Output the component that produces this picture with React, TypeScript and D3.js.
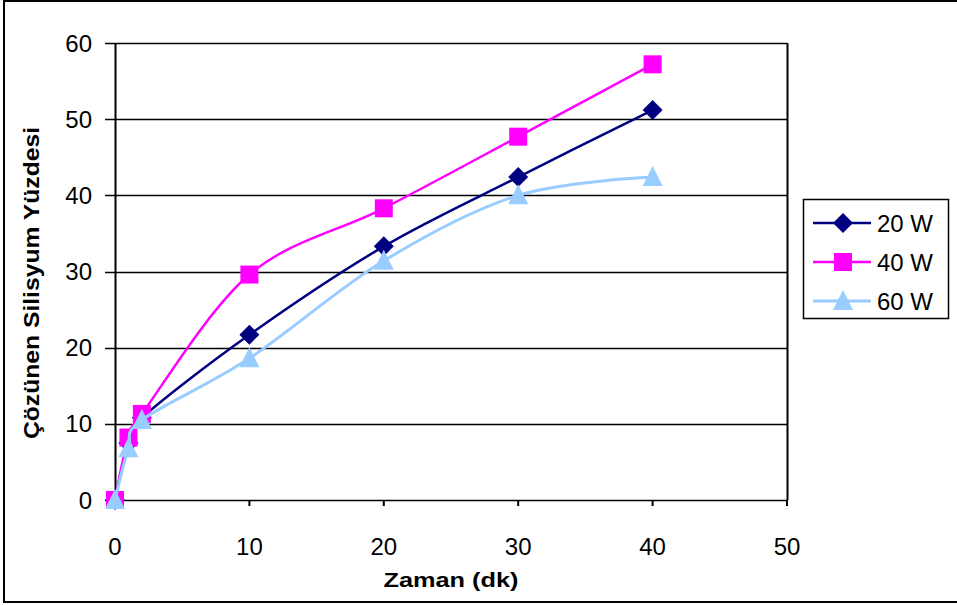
import React from "react";
import * as d3 from "d3";

// Dissolution time (minutes)
const times = [0, 1, 2, 10, 20, 30, 40];
// Dissolved silicon percentage per microwave power level
const series20W = [0, 7.5, 10.8, 21.7, 33.3, 42.4, 51.2];
const series40W = [0, 8.2, 11.3, 29.6, 38.3, 47.7, 57.2];
const series60W = [0, 6.8, 10.5, 18.6, 31.4, 40.0, 42.4];
const seriesNames = ["20 W", "40 W", "60 W"];
const xTicks = [0, 10, 20, 30, 40, 50];
const yTicks = [0, 10, 20, 30, 40, 50, 60];

const W = 957;
const H = 605;
const plot = { left: 115, right: 787, top: 43, bottom: 500 };

const x = d3.scaleLinear().domain([0, 50]).range([plot.left, plot.right]);
const y = d3.scaleLinear().domain([0, 60]).range([plot.bottom, plot.top]);

const colors = ["#000080", "#FF00FF", "#99CCFF"];
const widths = [2.5, 2.5, 3];
const allSeries = [series20W, series40W, series60W];

const line = d3
  .line<[number, number]>()
  .x((d) => x(d[0]))
  .y((d) => y(d[1]))
  .curve(d3.curveCatmullRom.alpha(0));

function Marker({ kind, cx, cy, color }: { kind: number; cx: number; cy: number; color: string }) {
  if (kind === 0) {
    const r = 10;
    return (
      <path
        d={`M${cx},${cy - r}L${cx + r},${cy}L${cx},${cy + r}L${cx - r},${cy}Z`}
        fill={color}
      />
    );
  }
  if (kind === 1) {
    const s = 18;
    return <rect x={cx - s / 2} y={cy - s / 2} width={s} height={s} fill={color} />;
  }
  const hw = 10;
  return (
    <path
      d={`M${cx},${cy - 11}L${cx + hw},${cy + 9}L${cx - hw},${cy + 9}Z`}
      fill={color}
    />
  );
}

export default function App() {
  const font = "Liberation Sans, Arial, sans-serif";
  return (
    <svg
      width={W}
      height={H}
      style={{ position: "absolute", left: 0, top: 0, background: "#fff" }}
      fontFamily={font}
    >
      {/* outer frame */}
      <rect x={4} y={1} width={960} height={601} fill="none" stroke="#000" strokeWidth={2} />

      {/* horizontal gridlines with left tick stubs */}
      {yTicks.map((t) => (
        <line
          key={`g${t}`}
          x1={plot.left - 10}
          x2={plot.right}
          y1={Math.round(y(t)) + 0.5}
          y2={Math.round(y(t)) + 0.5}
          stroke="#000"
          strokeWidth={1.5}
        />
      ))}
      {/* plot area right edge */}
      <line x1={plot.right + 0.5} x2={plot.right + 0.5} y1={plot.top} y2={plot.bottom} stroke="#000" strokeWidth={2} />
      {/* y axis */}
      <line x1={plot.left + 0.5} x2={plot.left + 0.5} y1={plot.top} y2={plot.bottom} stroke="#000" strokeWidth={2} />
      {/* x axis ticks */}
      {xTicks.map((t) => (
        <line
          key={`xt${t}`}
          x1={x(t)}
          x2={x(t)}
          y1={plot.bottom}
          y2={plot.bottom + 6}
          stroke="#000"
          strokeWidth={2}
        />
      ))}

      {/* tick labels */}
      {yTicks.map((t) => (
        <text key={`yl${t}`} x={92} y={y(t)} dy="0.36em" textAnchor="end" fontSize={24}>
          {t}
        </text>
      ))}
      {xTicks.map((t) => (
        <text key={`xl${t}`} x={x(t)} y={546} dy="0.36em" textAnchor="middle" fontSize={24}>
          {t}
        </text>
      ))}

      {/* axis titles */}
      <text
        x={451}
        y={579}
        dy="0.36em"
        textAnchor="middle"
        fontSize={21}
        fontWeight="bold"
        textLength={135}
        lengthAdjust="spacingAndGlyphs"
      >
        Zaman (dk)
      </text>
      <text
        transform={`translate(31,283) rotate(-90)`}
        dy="0.36em"
        textAnchor="middle"
        fontSize={22}
        fontWeight="bold"
        textLength={312}
        lengthAdjust="spacingAndGlyphs"
      >
        Çözünen Silisyum Yüzdesi
      </text>

      {/* series */}
      {allSeries.map((vals, i) => {
        const pts = times.map((t, j) => [t, vals[j]] as [number, number]);
        return (
          <g key={`s${i}`}>
            <path d={line(pts) || ""} fill="none" stroke={colors[i]} strokeWidth={widths[i]} />
            {pts.map((p, j) => (
              <Marker key={j} kind={i} cx={x(p[0])} cy={y(p[1])} color={colors[i]} />
            ))}
          </g>
        );
      })}

      {/* legend */}
      <rect x={803.5} y={199.5} width={145} height={119} fill="#fff" stroke="#000" strokeWidth={1.5} />
      {seriesNames.map((name, i) => {
        const cy = 223 + i * 39;
        return (
          <g key={`l${i}`}>
            <line x1={813} x2={871} y1={cy} y2={cy} stroke={colors[i]} strokeWidth={widths[i]} />
            <Marker kind={i} cx={843} cy={cy} color={colors[i]} />
            <text x={877} y={cy} dy="0.36em" fontSize={24}>
              {name}
            </text>
          </g>
        );
      })}
    </svg>
  );
}
